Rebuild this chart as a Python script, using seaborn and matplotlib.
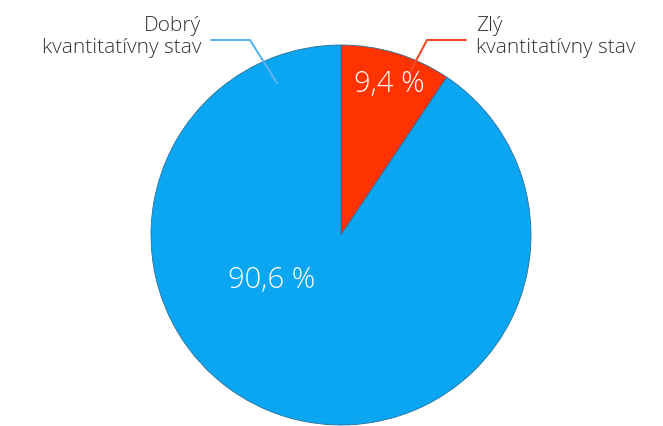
import matplotlib.pyplot as plt
import seaborn as sns

# data
categories = ["Zlý\nkvantitatívny stav", "Dobrý\nkvantitatívny stav"]
values = [9.4, 90.6]
pct_labels = ["9,4 %", "90,6 %"]
colors = ["#FF3300", "#0AA6F2"]

sns.set_theme(style="white")
plt.rcParams['font.family'] = ['Open Sans', 'DejaVu Sans']

fig = plt.figure(figsize=(6.63, 4.26), dpi=100)
ax = fig.add_axes([0, 0, 1, 1])
H = 426

wedges, _ = ax.pie(values, colors=colors, startangle=90, counterclock=False,
                   center=(341, H - 235), radius=190,
                   wedgeprops=dict(edgecolor="#2a6f9a", linewidth=0.6))
ax.set_xlim(0, 663)
ax.set_ylim(0, H)
ax.set_aspect("equal")
ax.axis("off")

# percent labels
ax.text(389, H - 84, pct_labels[0], color="white", fontsize=21,
        ha="center", va="center", fontweight="light")
ax.text(272, H - 280, pct_labels[1], color="white", fontsize=21,
        ha="center", va="center", fontweight="light")

# leader lines
ax.plot([466, 427, 410], [H - 40, H - 40, H - 72], color="#F04A2A", lw=1.5)
ax.plot([211, 250, 277], [H - 40, H - 40, H - 83], color="#5AB4F0", lw=1.5)

# category labels
ax.text(476, H - 37, categories[0], color="#333333", fontsize=15,
        ha="left", va="center", linespacing=1.15, fontweight="light")
ax.text(201, H - 37, categories[1], color="#333333", fontsize=15,
        ha="right", va="center", linespacing=1.15, fontweight="light",
        multialignment="right")

fig.savefig("out.png", dpi=100)
